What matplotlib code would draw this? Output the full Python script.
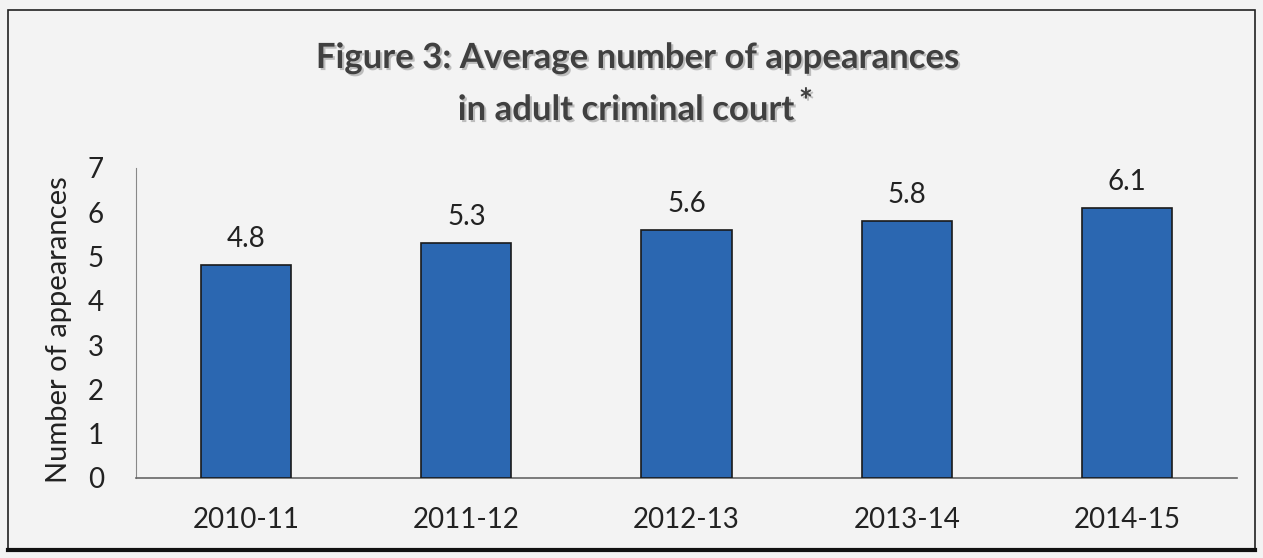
import matplotlib
matplotlib.use("Agg")
import matplotlib.pyplot as plt
import matplotlib.patheffects as pe
from matplotlib.patches import Rectangle
from matplotlib.lines import Line2D
import numpy as np

categories = ["2010-11", "2011-12", "2012-13", "2013-14", "2014-15"]
values = [4.8, 5.3, 5.6, 5.8, 6.1]
yticks = [0, 1, 2, 3, 4, 5, 6, 7]

plt.rcParams['font.family'] = ['Lato', 'DejaVu Sans']

W, H = 1263, 558
fig = plt.figure(figsize=(W / 100, H / 100), dpi=100)
fig.patch.set_facecolor('#f3f3f3')

# outer frame
fig.add_artist(Rectangle((8 / W, 1 - 549 / H), 1247 / W, 539 / H,
                         transform=fig.transFigure, fill=False,
                         edgecolor='#222222', linewidth=1.2))
fig.add_artist(Line2D([8 / W, 1255 / W], [1 - 550 / H, 1 - 550 / H],
                      transform=fig.transFigure, color='#111111', linewidth=3))

ax = fig.add_axes([136 / W, 1 - 478 / H, 1101 / W, 310 / H])
ax.set_facecolor('none')

x = np.arange(len(categories))
ax.bar(x, values, width=0.41, color='#2b67b1', edgecolor='#1a1a1a', linewidth=1.2, zorder=3)
for xi, v in zip(x, values):
    ax.text(xi, v + 0.3, f"{v:.1f}", ha='center', va='bottom', fontsize=20, color='#222222')

ax.set_xlim(-0.5, len(categories) - 0.5)
ax.set_ylim(0, 7)
ax.set_yticks(yticks)
ax.set_yticklabels([str(t) for t in yticks], fontsize=20, color='#222222')
ax.set_xticks(x)
ax.set_xticklabels(categories, fontsize=20, color='#222222')
ax.tick_params(axis='both', length=0)
ax.tick_params(axis='y', pad=23)
ax.tick_params(axis='x', pad=21)
for s in ['top', 'right']:
    ax.spines[s].set_visible(False)
ax.spines['left'].set_color('#888888')
ax.spines['bottom'].set_color('#666666')
ax.spines['bottom'].set_linewidth(1.2)
ax.set_ylabel("Number of appearances", fontsize=21, color='#222222')
ax.yaxis.set_label_coords(-0.058, 0.48)

shadow = [pe.withSimplePatchShadow(offset=(1.5, -1.5), shadow_rgbFace='#9a9a9a', alpha=0.6)]
fig.text(638 / W, 1 - 58 / H, "Figure 3: Average number of appearances",
         ha='center', va='center', fontsize=25, fontweight='bold', color='#404040',
         path_effects=shadow)
fig.text(626 / W, 1 - 110 / H, "in adult criminal court",
         ha='center', va='center', fontsize=25, fontweight='bold', color='#404040',
         path_effects=shadow)
fig.text(806 / W, 1 - 103 / H, "*",
         ha='center', va='center', fontsize=24, fontweight='bold', color='#404040',
         path_effects=shadow)

fig.savefig("out.png", dpi=100, facecolor=fig.get_facecolor())
